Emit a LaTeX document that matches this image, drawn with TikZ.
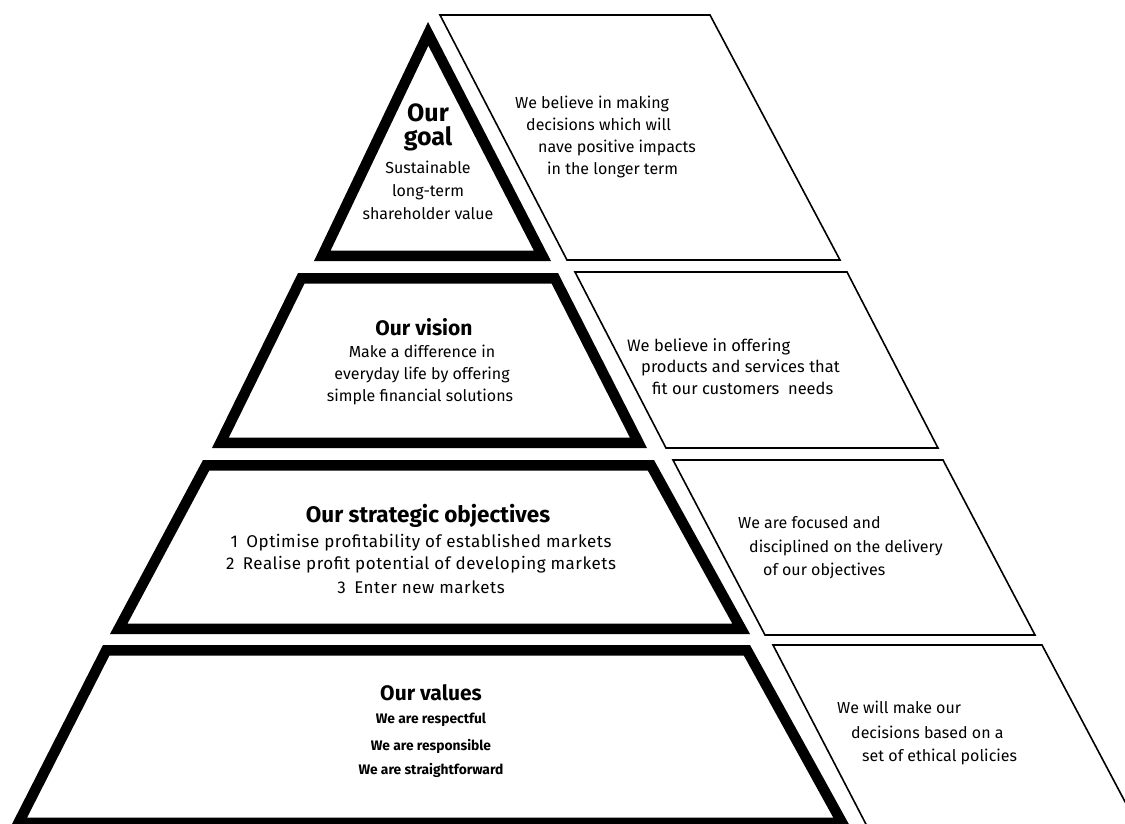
\documentclass[tikz,border=0pt]{standalone}
\usepackage{fontspec}
\setmainfont{Fira Sans}
\newcommand\thickpoly[1]{\begin{scope}\clip #1;\draw[thickframe] #1;\end{scope}}
\tikzset{
  thickframe/.style={line width=21pt, line join=miter, draw=black},
  thinframe/.style={line width=1.6pt, line join=miter, draw=black},
  body/.style={font=\fontsize{16}{19}\selectfont, inner sep=0pt, anchor=base west},
  ctr/.style={font=\fontsize{16}{19}\selectfont, inner sep=0pt, anchor=base},
  stratbody/.style={font=\fontsize{17}{19}\selectfont\addfontfeature{LetterSpace=3}, inner sep=0pt, anchor=base},
  title/.style={font=\bfseries\fontsize{21}{24}\selectfont, inner sep=0pt, anchor=base},
  bigtitle/.style={font=\bfseries\fontsize{25}{28}\selectfont, inner sep=0pt, anchor=base},
  valbody/.style={font=\bfseries\fontsize{13.8}{17}\selectfont, inner sep=0pt, anchor=base},
}
\begin{document}
\begin{tikzpicture}[x=1pt,y=-1pt]
\useasboundingbox (0,0) rectangle (1125,823);
\fill[white] (0,0) rectangle (1125,823);
\clip (0,0) rectangle (1125,823);
% pyramid levels (thick frames)
\thickpoly{(428,22) -- (551,261) -- (314,261) -- cycle}
\thickpoly{(298,273) -- (558,273) -- (647,448) -- (212,448) -- cycle}
\thickpoly{(203,460) -- (654,460) -- (750,634) -- (110,634) -- cycle}
\thickpoly{(103,645) -- (750,645) -- (851,828) -- (10,828) -- cycle}
% side parallelograms (thin frames)
\draw[thinframe] (440,15) -- (710,15) -- (840,260) -- (567,260) -- cycle;
\draw[thinframe] (575,272) -- (847,272) -- (938,448) -- (666,448) -- cycle;
\draw[thinframe] (673,460) -- (943,460) -- (1035,635) -- (765,635) -- cycle;
\draw[thinframe] (773,645) -- (1042,645) -- (1140,830) -- (869,830) -- cycle;
% goal
\node[bigtitle] (g1) at (428,121) {Our};
\node[bigtitle] (g2) at (428,145) {goal};
\node[ctr] (g3) at (428,173) {Sustainable};
\node[ctr] (g4) at (428,196) {long-term};
\node[ctr] (g5) at (428,219) {shareholder value};
% vision
\node[title] (v1) at (424,335) {Our vision};
\node[ctr] (v2) at (422,357) {Make a difference in};
\node[ctr] (v3) at (422,379) {everyday life by offering};
\node[ctr] (v4) at (420,401) {simple financial solutions};
% strategic objectives
\node[title,font=\bfseries\fontsize{22.5}{26}\selectfont] (s1) at (428,522) {Our strategic objectives};
\node[stratbody] (s2) at (421,547) {1\enspace Optimise profitability of established markets};
\node[stratbody] (s3) at (421,569) {2\enspace Realise profit potential of developing markets};
\node[stratbody] (s4) at (421,593) {3\enspace Enter new markets};
% values
\node[title] (w1) at (431,700) {Our values};
\node[valbody] (w2) at (431,723) {We are respectful};
\node[valbody] (w3) at (431,750) {We are responsible};
\node[valbody] (w4) at (431,774) {We are straightforward};
% side texts
\node[body] (a1) at (515,108) {We believe in making};
\node[body] (a2) at (526,130) {decisions which will};
\node[body] (a3) at (538,152) {nave positive impacts};
\node[body] (a4) at (547,174) {in the longer term};
\node[body,font=\fontsize{16.5}{19}\selectfont] (b1) at (627,351) {We believe in offering};
\node[body,font=\fontsize{16.5}{19}\selectfont] (b2) at (641,372) {products and services that};
\node[body,font=\fontsize{16.5}{19}\selectfont] (b3) at (652,394) {fit our customers\ \ needs};
\node[body] (c1) at (738,528) {We are focused and};
\node[body] (c2) at (749,552) {disciplined on the delivery};
\node[body] (c3) at (763,575) {of our objectives};
\node[body] (d1) at (837,713) {We will make our};
\node[body] (d2) at (851,738) {decisions based on a};
\node[body] (d3) at (862,761) {set of ethical policies};
\end{tikzpicture}
\end{document}
